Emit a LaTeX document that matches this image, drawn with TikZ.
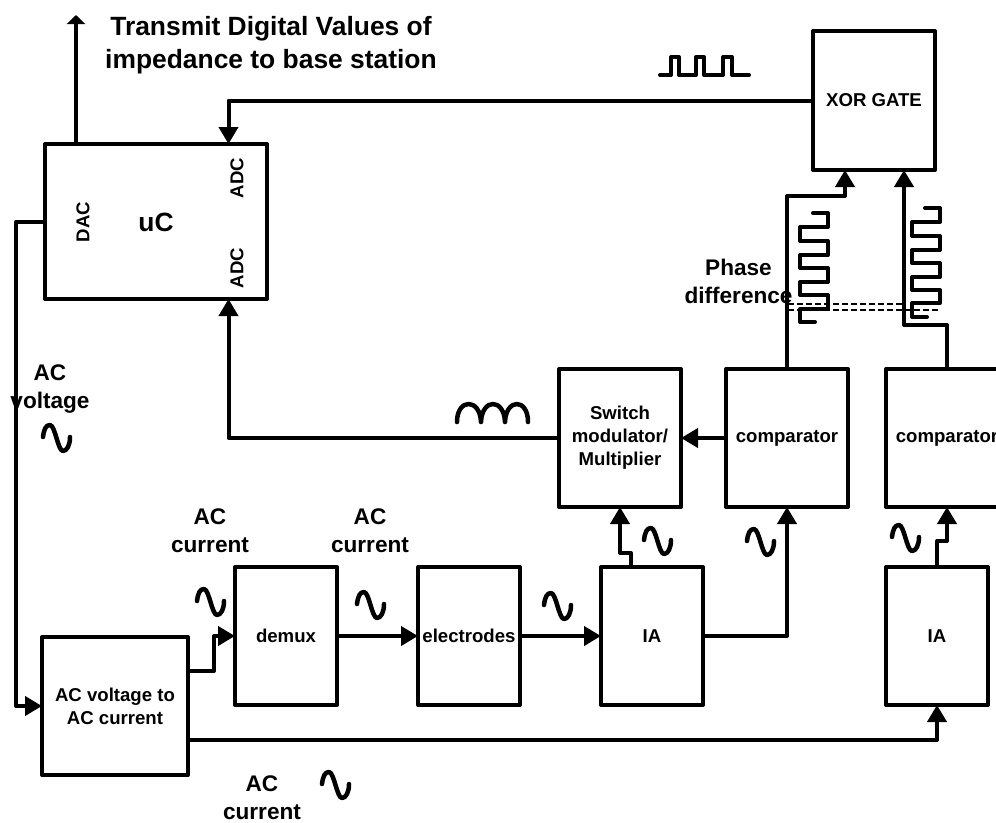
\documentclass[tikz,border=0pt]{standalone}
\usepackage{fontspec}
\setmainfont{Liberation Sans}
\usetikzlibrary{arrows.meta}

\tikzset{
    wire/.style={line width=4pt, line join=round},
    sig/.style={line width=4pt, line cap=round, line join=round},
    block/.style={draw, line width=4pt, line join=round, outer sep=0pt, inner sep=0pt, align=center, font=\fontsize{18.6}{23}\selectfont\bfseries},
    note/.style={align=center, inner sep=0pt, font=\fontsize{22.6}{28}\selectfont\bfseries},
    bignote/.style={align=center, inner sep=0pt, font=\fontsize{26.4}{33}\selectfont\bfseries},
    pin/.style={rotate=90, inner sep=0pt, font=\fontsize{18.6}{23}\selectfont\bfseries},
    dots/.style={line width=2pt, dash pattern=on 5.5pt off 3.5pt},
    pics/sinewave/.style={code={
        \draw[sig, line width=4.5pt] (0,12) .. controls (1,4) and (3,0) .. (7,0)
            .. controls (12,0) and (15,26) .. (20,26)
            .. controls (24,26) and (27,20) .. (27,12);
    }},
    >={Triangle[length=17pt, width=19pt]}
}

\begin{document}
\begin{tikzpicture}[x=1pt, y=-1pt]
    \clip (0,0) rectangle (996,822);

    % blocks
    \node[block, minimum width=222pt, minimum height=155pt] (uC) at (156, 221.5) {};
    \node[block, minimum width=122pt, minimum height=139pt] (xorgate) at (874, 100.5) {XOR GATE};
    \node[block, minimum width=122pt, minimum height=138pt] (switch) at (620, 438) {Switch\\modulator/\\Multiplier};
    \node[block, minimum width=122pt, minimum height=138pt] (comp1) at (787, 438) {comparator};
    \node[block, minimum width=122pt, minimum height=138pt] (comp2) at (947, 438) {comparator};
    \node[block, minimum width=102pt, minimum height=138pt] (demux) at (286, 636) {demux};
    \node[block, minimum width=102pt, minimum height=138pt] (electrodes) at (469, 636) {electrodes};
    \node[block, minimum width=102pt, minimum height=138pt] (IA1) at (652, 636) {IA};
    \node[block, minimum width=102pt, minimum height=138pt] (IA2) at (937, 636) {IA};
    \node[block, minimum width=146pt, minimum height=138pt] (acconv) at (115, 706) {AC voltage to\\AC current};

    % pins of the uC
    \node[bignote] (uClabel) at (156, 222) {uC};
    \node[pin] (dac) at (83, 222) {DAC};
    \node[pin] (adc1) at (237, 178) {ADC};
    \node[pin] (adc2) at (237, 268) {ADC};

    % free ends and bends
    \coordinate (antenna) at (76, 15);
    \coordinate (uCtop) at (76, 144);
    \coordinate (uCin1) at (228.5, 144);
    \coordinate (uCin2) at (228.5, 299);
    \coordinate (dacbend) at (16, 221.5);
    \coordinate (convout1) at (188, 671);
    \coordinate (convbend) at (214, 671);
    \coordinate (convout2) at (188, 740);
    \coordinate (IA1out) at (631, 567);
    \coordinate (IA1bend) at (631, 553);
    \coordinate (switchin) at (620, 507);
    \coordinate (IA2bend) at (937, 541);
    \coordinate (comp2in) at (947, 507);
    \coordinate (xorin1) at (845, 170);
    \coordinate (xorin2) at (904, 170);
    \coordinate (comp1bend) at (787, 196);
    \coordinate (comp2bend) at (947, 325);

    % connectors
    \draw[wire, -{Triangle[length=9pt, width=18pt]}] (uCtop) -- (antenna);
    \draw[wire, ->] (xorgate.west) -| (uCin1);
    \draw[wire, ->] (switch.west) -| (uCin2);
    \draw[wire, ->] (uC.west) -- (dacbend) |- (acconv.west);
    \draw[wire, ->] (convout1) -- (convbend) |- (demux.west);
    \draw[wire, ->] (demux.east) -- (electrodes.west);
    \draw[wire, ->] (electrodes.east) -- (IA1.west);
    \draw[wire, ->] (IA1.east) -| (comp1.south);
    \draw[wire, ->] (IA1out) -- (IA1bend) -| (switchin);
    \draw[wire, ->] (IA2.north) -- (IA2bend) -| (comp2in);
    \draw[wire, ->] (convout2) -| (IA2.south);
    \draw[wire, ->] (comp1.west) -- (switch.east);
    \draw[wire, ->] (comp1.north) -- (comp1bend) -| (xorin1);
    \draw[wire, ->] (comp2.north) -- (comp2bend) -| (xorin2);

    % waveforms
    \draw[sig] (660,75) -- (671,75) -- (671,57) -- (679,57) -- (679,75) -- (696,75) -- (696,57) -- (704,57) -- (704,75) -- (723,75) -- (723,57) -- (732,57) -- (732,75) -- (749,75);
    \draw[sig, line width=4.5pt] (457,422) .. controls (457,398) and (480,398) .. (481,422) .. controls (482,398) and (504,398) .. (505,422) .. controls (506,398) and (528,398) .. (528,422);
    \draw[sig] (813,213) -- (828,213) -- (828,227) -- (800,227) -- (800,241) -- (828,241) -- (828,255) -- (800,255) -- (800,268) -- (828,268) -- (828,282) -- (800,282) -- (800,295) -- (828,295) -- (828,309) -- (800,309) -- (800,322) -- (815,322);
    \draw[sig] (925,208) -- (940,208) -- (940,222) -- (912,222) -- (912,236) -- (940,236) -- (940,250) -- (912,250) -- (912,263) -- (940,263) -- (940,277) -- (912,277) -- (912,290) -- (940,290) -- (940,303) -- (912,303) -- (912,317) -- (927,317);
    \draw[dots] (788,304) -- (905,304);
    \draw[dots] (788,310) -- (940,310);

    \pic at (43, 425) {sinewave};
    \pic at (197, 589) {sinewave};
    \pic at (357, 592) {sinewave};
    \pic at (544, 593) {sinewave};
    \pic at (644, 528) {sinewave};
    \pic at (747, 529) {sinewave};
    \pic at (892, 525) {sinewave};
    \pic at (322, 772) {sinewave};

    % labels
    \node[bignote] (transmit) at (271, 45) {Transmit Digital Values of\\impedance to base station};
    \node[note] (acvoltage) at (50, 389) {AC\\voltage};
    \node[note] (accurrent1) at (210, 531) {AC\\current};
    \node[note] (accurrent2) at (370, 531) {AC\\current};
    \node[note] (accurrent3) at (262, 798) {AC\\current};
    \node[note] (phase) at (738.5, 281) {Phase\\difference};
\end{tikzpicture}
\end{document}
